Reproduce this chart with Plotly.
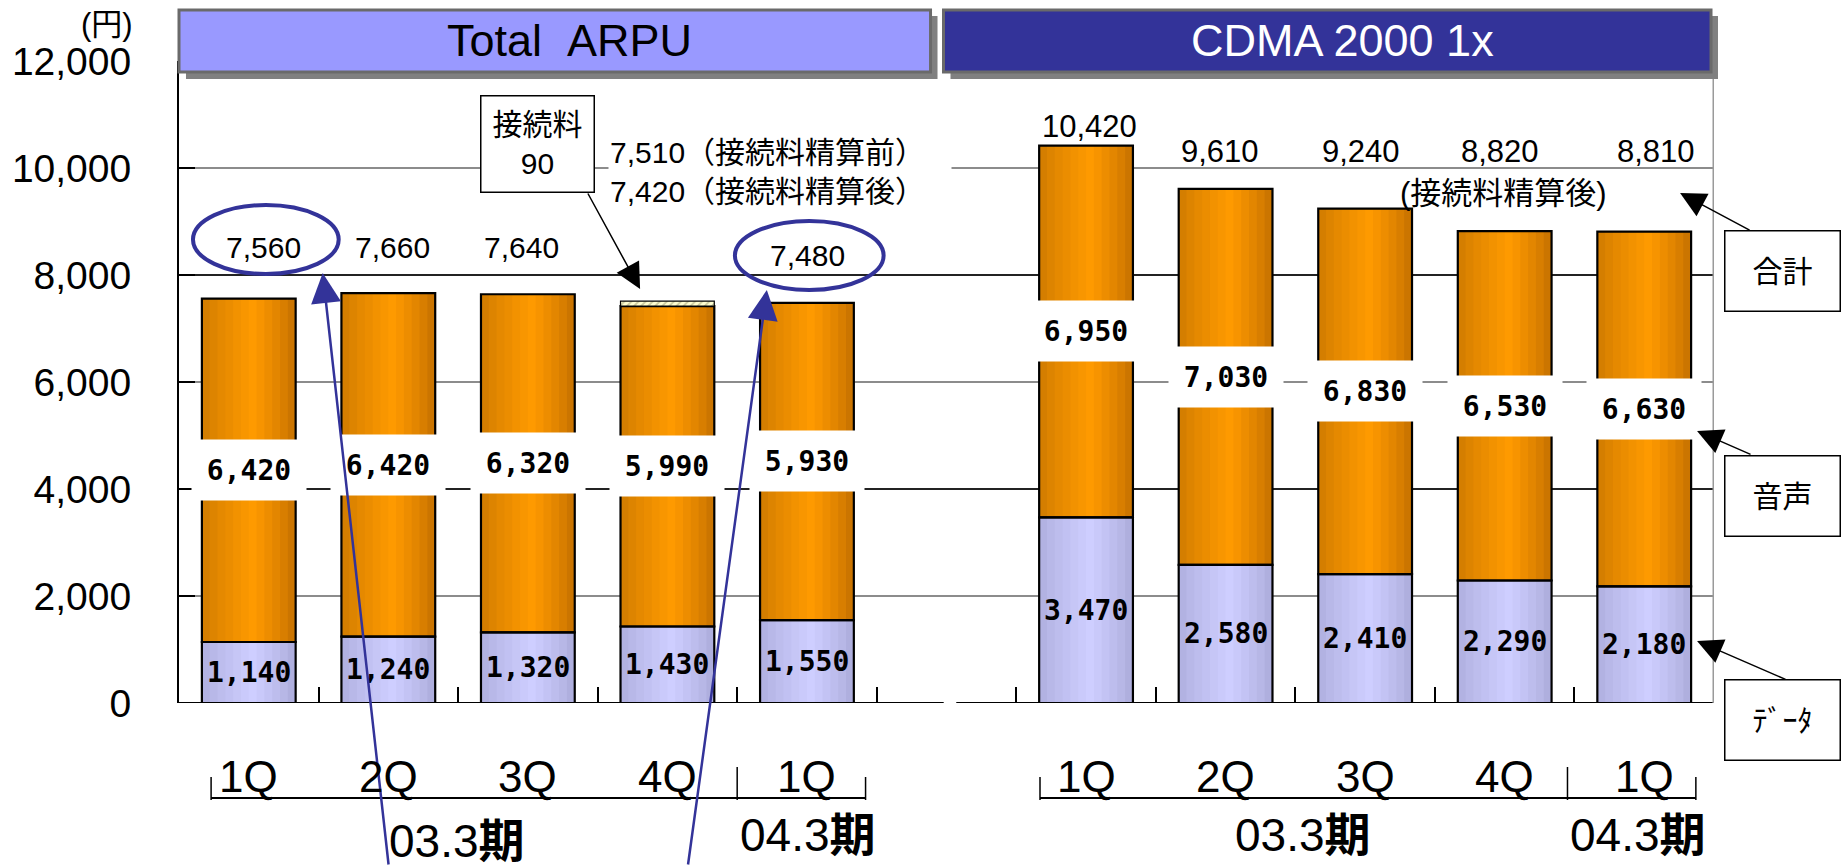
import plotly.graph_objects as go

# ---------------- data ----------------
quarters = ["1Q", "2Q", "3Q", "4Q", "1Q"]
periods = ["03.3期", "04.3期"]
total_data = [1140, 1240, 1320, 1430, 1550]
total_voice = [6420, 6420, 6320, 5990, 5930]
total_sum = [7560, 7660, 7640, 7420, 7480]
interconnect_adj = 90            # 4Q: 7,420 after settlement -> 7,510 before
cdma_data = [3470, 2580, 2410, 2290, 2180]
cdma_voice = [6950, 7030, 6830, 6530, 6630]
cdma_sum = [10420, 9610, 9240, 8820, 8810]
y_ticks = [0, 2000, 4000, 6000, 8000, 10000, 12000]
panel_titles = ["Total\u00a0\u00a0ARPU", "CDMA 2000 1x"]
side_labels = ["合計", "音声", "ﾃﾞｰﾀ"]
unit_label = "(円)"

# ---------------- layout helpers ----------------
W, H = 1843, 866
ML, MR, MT, MB = 176, 129, 61, 163
PW, PH = W - ML - MR, H - MT - MB


def px(x):
    return (x - ML) / PW


def py(y):
    return (H - MB - y) / PH


x_total = list(range(len(quarters)))
x_cdma = [i + len(quarters) + 1 for i in range(len(quarters))]
xs = x_total + x_cdma
data_all = total_data + cdma_data
voice_all = total_voice + cdma_voice

BW = 0.672
NSTRIP = 12
LATIN = "Liberation Sans, Arial, Noto Sans CJK JP"
CJK = "Liberation Sans, Noto Sans CJK JP"
MONO = "DejaVu Sans Mono, monospace"


def lerp(a, b, f):
    return tuple(int(round(a[k] + (b[k] - a[k]) * f)) for k in range(3))


def grad(edge_l, center, edge_r, n, peak=0.55):
    out = []
    for i in range(n):
        t = (i + 0.5) / n
        if t < peak:
            f = t / peak
            c = lerp(edge_l, center, f ** 0.8)
        else:
            f = (1 - t) / (1 - peak)
            c = lerp(edge_r, center, f ** 0.8)
        out.append("rgb(%d,%d,%d)" % c)
    return out


orange = grad((206, 122, 0), (255, 154, 0), (194, 110, 0), NSTRIP)
lav = grad((174, 174, 222), (206, 206, 255), (170, 170, 216), NSTRIP)

fig = go.Figure()
sw = BW / NSTRIP
for series_y, series_base, cols in [(data_all, [0] * len(xs), lav), (voice_all, data_all, orange)]:
    for i, c in enumerate(cols):
        w = sw * (1.3 if i < NSTRIP - 1 else 1.0)
        fig.add_trace(go.Bar(
            x=xs, y=series_y, base=series_base, width=[w] * len(xs),
            offset=[-BW / 2 + i * sw] * len(xs),
            marker=dict(color=c, line=dict(width=0)),
            hoverinfo="skip", showlegend=False))

# outlines
for series_y, series_base in [(data_all, [0] * len(xs)), (voice_all, data_all)]:
    fig.add_trace(go.Bar(
        x=xs, y=series_y, base=series_base, width=[BW] * len(xs),
        marker=dict(color="rgba(0,0,0,0)", line=dict(color="black", width=2.2)),
        hoverinfo="skip", showlegend=False))

# interconnection fee segment (4Q, hatched)
fig.add_trace(go.Bar(
    x=[x_total[3]], y=[interconnect_adj], base=[total_sum[3]], width=[BW],
    marker=dict(color="#FFFFD2",
                pattern=dict(shape="/", fgcolor="#9a9a70", bgcolor="#FFFFD2", size=5, solidity=0.35),
                line=dict(color="black", width=1.2)),
    hoverinfo="skip", showlegend=False))

ann = []
shapes = []


def add_text(**kw):
    kw.setdefault("xanchor", "center")
    kw.setdefault("yanchor", "middle")
    kw.setdefault("showarrow", False)
    ann.append(kw)


def add_arrow(tip, tail, color, width, size):
    ann.append(dict(x=px(tip[0]), y=py(tip[1]), xref="paper", yref="paper", text="", showarrow=True,
                    ax=tail[0] - tip[0], ay=tail[1] - tip[1], arrowhead=2, arrowsize=size,
                    arrowwidth=width, arrowcolor=color))


# value labels: data (inside lavender) and voice (white boxes)
for x, d, v in zip(xs, data_all, voice_all):
    add_text(x=x, y=d / 2, xref="x", yref="y", text=f"<b>{d:,}</b>",
             font=dict(family=MONO, size=28, color="black"))
    add_text(x=x, y=d + v / 2, xref="x", yref="y", text=f"<b>{v:,}</b>",
             font=dict(family=MONO, size=28, color="black"),
             bgcolor="white", width=112, height=58)

# totals
sum_label_y_total = [8520, 8520, 8520, None, 8370]
sum_shift_total = [15, 4, -6, 0, 1]
for x, s, yy, sh in zip(x_total, total_sum, sum_label_y_total, sum_shift_total):
    if yy is None:
        continue
    add_text(x=x, y=yy, xref="x", yref="y", text=f"{s:,}", xshift=sh,
             font=dict(family=LATIN, size=30, color="black"))
sum_label_y_cdma = [10770, 10300, 10300, 10300, 10300]
sum_shift_cdma = [3, -6, -4, -5, 12]
for x, s, yy, sh in zip(x_cdma, cdma_sum, sum_label_y_cdma, sum_shift_cdma):
    add_text(x=x, y=yy, xref="x", yref="y", text=f"{s:,}", xshift=sh,
             font=dict(family=LATIN, size=31, color="black"))

# 4Q before / after settlement
before = total_sum[3] + interconnect_adj
after = total_sum[3]
add_text(x=px(606), y=py(172), xref="paper", yref="paper", xanchor="left",
         text=f"{before:,}（接続料精算前）<br>{after:,}（接続料精算後）", align="left",
         bgcolor="white", width=340, height=80,
         font=dict(family=CJK, size=30, color="black"))
add_text(x=px(535), y=py(144), xref="paper", yref="paper",
         text=f"接続料<br>{interconnect_adj}",
         bgcolor="white", bordercolor="black", borderwidth=1.5, width=110, height=93,
         font=dict(family=CJK, size=30, color="black"))
add_arrow((638, 289), (585, 192), "black", 1.5, 3.4)
add_text(x=px(1503), y=py(194), xref="paper", yref="paper", text="(接続料精算後)",
         font=dict(family=CJK, size=31, color="black"))

# side labels with arrows
side_centers = [271, 496, 720]
side_tips = [(1680, 193), (1697, 431), (1697, 641)]
side_tails = [(1751, 231), (1752, 455), (1787, 680)]
for lab, cy, tip, tail in zip(side_labels, side_centers, side_tips, side_tails):
    add_text(x=px(1783), y=py(cy), xref="paper", yref="paper", text=lab,
             bgcolor="white", bordercolor="black", borderwidth=1.5, width=112, height=77,
             font=dict(family=CJK, size=30, color="black"))
    add_arrow(tip, tail, "black", 1.5, 3.4)

# blue highlight arrows
for tip, tail in [((320, 273), (386, 930)), ((765, 290), (686, 930))]:
    add_arrow(tip, tail, "#333399", 2.5, 2.4)

# ellipses around totals
for x0, y0, x1, y1 in [(190, 205, 336, 274), (733, 221, 882, 290)]:
    shapes.append(dict(type="circle", xref="paper", yref="paper", x0=px(x0), x1=px(x1),
                       y0=py(y1), y1=py(y0), line=dict(color="#333399", width=4), layer="above"))

# quarter labels and period labels
for x, q in zip(xs, quarters + quarters):
    add_text(x=x, y=py(777), xref="x", yref="paper", text=q,
             font=dict(family=LATIN, size=44, color="black"))
period_pos = [(455, 841), (806, 835), (1302, 835), (1638, 835)]
for (cx, cy), p in zip(period_pos, periods + periods):
    add_text(x=px(cx), y=py(cy), xref="paper", yref="paper",
             text=p.replace("期", "<b>期</b>"),
             font=dict(family=CJK, size=46, color="black"))

# brackets under the quarter labels
for xa, xm, xb in [(-0.27, 3.5, 4.42), (5.67, 9.45, 10.37)]:
    shapes.append(dict(type="line", xref="x", yref="paper", x0=xa, x1=xb, y0=py(798), y1=py(798),
                       line=dict(color="black", width=2)))
    for xx, ytop in [(xa, 777), (xm, 767), (xb, 777)]:
        shapes.append(dict(type="line", xref="x", yref="paper", x0=xx, x1=xx, y0=py(800), y1=py(ytop),
                           line=dict(color="black", width=1.5)))

# darker gridlines at 4000 / 8000
for gy in [4000, 8000]:
    shapes.append(dict(type="line", xref="x", yref="y", x0=-0.5, x1=10.5, y0=gy, y1=gy,
                       line=dict(color="black", width=1.3), layer="between"))

# baseline with a break between panels, and right border
for xa, xb in [(-0.5, 4.98), (5.07, 10.5)]:
    shapes.append(dict(type="line", xref="x", yref="y", x0=xa, x1=xb, y0=0, y1=0,
                       line=dict(color="black", width=2), layer="above"))
shapes.append(dict(type="line", xref="x", yref="paper", x0=10.5, x1=10.5, y0=0, y1=py(75),
                   line=dict(color="#9a9a9a", width=3), layer="above"))

# title banners with shadows
banners = [(176, 929, "#9999FF", "black"), (942, 1711, "#333399", "white")]
for (x0, x1, fill, tcol), title in zip(banners, panel_titles):
    shapes.append(dict(type="rect", xref="paper", yref="paper", x0=px(x0 + 7), x1=px(x1 + 7),
                       y0=py(79), y1=py(16), fillcolor="#808080", line=dict(width=0), layer="above"))
    shapes.append(dict(type="rect", xref="paper", yref="paper", x0=px(x0), x1=px(x1),
                       y0=py(72), y1=py(10), fillcolor=fill, line=dict(color="#6a6a6a", width=3),
                       layer="above"))
title_pos = [567, 1342]
for cx, title, (_, _, _, tcol) in zip(title_pos, panel_titles, banners):
    add_text(x=px(cx), y=py(40), xref="paper", yref="paper", text=title,
             font=dict(family=LATIN, size=45, color=tcol))

add_text(x=px(104), y=py(25), xref="paper", yref="paper", text=unit_label,
         font=dict(family=CJK, size=31, color="black"))

fig.update_layout(
    width=W, height=H,
    margin=dict(l=ML, r=MR, t=MT, b=MB, pad=0),
    paper_bgcolor="white", plot_bgcolor="white",
    barmode="overlay", showlegend=False, hovermode=False,
    annotations=ann, shapes=shapes,
    xaxis=dict(range=[-0.5, 10.5], showgrid=False, zeroline=False, showline=False,
               tickvals=[i + 0.5 for i in range(10)], ticks="inside", ticklen=16,
               tickwidth=1.5, tickcolor="black", showticklabels=False, fixedrange=True),
    yaxis=dict(range=[0, 12000], tickvals=y_ticks, tickformat=",d", showgrid=True,
               gridcolor="#8c8c8c", gridwidth=1.5, zeroline=False, showline=True,
               linecolor="black", linewidth=2, ticks="inside", ticklen=16, tickwidth=1.5,
               tickcolor="black", ticklabelstandoff=38,
               tickfont=dict(family=LATIN, size=39, color="black"), fixedrange=True),
)

fig.write_html("out.html", include_plotlyjs=True, config={"displayModeBar": False},
               post_script="document.body.style.margin='0';document.body.style.overflow='hidden';")
